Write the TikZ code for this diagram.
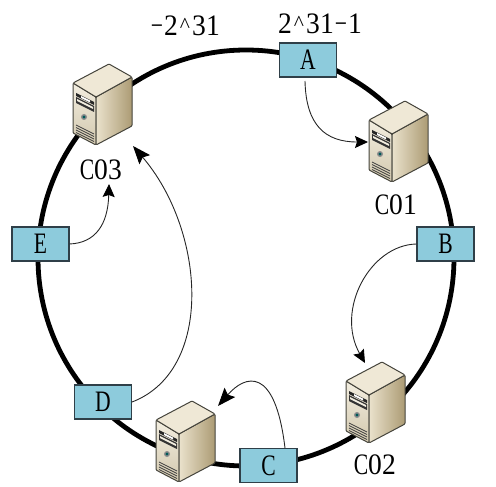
\documentclass[tikz,border=0pt]{standalone}
\usepackage{graphicx}
\usepackage{fontspec}
\setmainfont{Liberation Serif}
\usetikzlibrary{arrows.meta}
\definecolor{boxfill}{HTML}{8DCBDC}
\definecolor{boxedge}{HTML}{2F3F48}
\definecolor{srvedge}{HTML}{45443C}
\definecolor{srvtop}{HTML}{EFE8D6}
\definecolor{srvfronta}{HTML}{F3EEE0}
\definecolor{srvfrontb}{HTML}{D2C8AE}
\definecolor{srvsidea}{HTML}{EAE2CC}
\definecolor{srvsideb}{HTML}{AC9B74}
\newcommand{\gl}[1]{\makebox[14pt]{\scalebox{0.8}[1.1]{#1}}}
\newcommand{\dg}[1]{\makebox[14pt]{\scalebox{1.02}[1.1]{#1}}}
\newcommand{\crt}{\makebox[14pt]{\raisebox{3pt}{\scalebox{0.8}[0.8]{\textasciicircum}}}}
\tikzset{
  hash/.style={draw=boxedge,line width=1.1pt,fill=boxfill,minimum width=57pt,minimum height=34pt,inner sep=0pt,font=\fontsize{27}{27}\selectfont},
  lbl/.style={inner sep=0pt,font=\fontsize{27}{27}\selectfont},
  ring/.style={line width=4.8pt,draw=black},
  link/.style={draw=black!85,line width=0.9pt},
  bigtip/.style={-{Stealth[length=18pt,width=14pt,inset=3pt,black]}},
  smalltip/.style={-{Stealth[length=13pt,width=12pt,inset=2pt,black]}},
  face/.style={draw=srvedge,line width=1pt,line join=round,rounded corners=1pt},
  server/.pic={
    \path[face,top color=srvfronta,bottom color=srvfrontb]
      (-36,19) -- (-13,33) -- (-13,81) -- (-36,69) -- cycle;
    \path[face,left color=srvsidea,right color=srvsideb]
      (-13,33) -- (23,13) -- (23,62) -- (-13,81) -- cycle;
    \path[face,fill=srvtop]
      (0,0) -- (23,13) -- (-13,33) -- (-36,19) -- cycle;
    \fill[black!85] (-33,29) -- (-15,38) -- (-15,41) -- (-33,32) -- cycle;
    \fill[white] (-28,32) -- (-19,36.5) -- (-19,38.5) -- (-28,34) -- cycle;
    \fill[black!80] (-33,33) -- (-15,42) -- (-15,48) -- (-33,39) -- cycle;
    \fill[srvfronta] (-32,35) -- (-16,43) -- (-16,45) -- (-32,37) -- cycle;
    \fill[black!45] (-25,53) circle (3pt);
    \fill[teal!70!black] (-25,53) circle (1.7pt);
    \foreach \d in {0,2.5,5,7.5}
      \draw[line width=0.8pt,black!75] (-33,61+\d) -- (-15,70+\d);
  }
}
\begin{document}
\begin{tikzpicture}[x=1pt,y=-1pt]
\useasboundingbox (0,0) rectangle (496,487);
\coordinate (hub) at (246,258);
\draw[ring] (hub) circle (208);
\pic at (109,64) {server};
\pic at (405,101) {server};
\pic at (382,362) {server};
\pic at (192,401) {server};
\node[hash] (A) at (308,60) {\gl{A}};
\node[hash] (B) at (445.5,244) {\gl{B}};
\node[hash] (C) at (268.5,465.5) {\gl{C}};
\node[hash] (D) at (103,402) {\gl{D}};
\node[hash] (E) at (40.5,244) {\gl{E}};
\node[lbl] (c3) at (101,170) {\gl{C}\dg{0}\dg{3}};
\node[lbl] (c1) at (396,205) {\gl{C}\dg{0}\dg{1}};
\node[lbl] (c2) at (375,465) {\gl{C}\dg{0}\dg{2}};
\node[lbl] (lo) at (185,26) {\gl{−}\dg{2}\crt\dg{3}\dg{1}};
\node[lbl] (hi) at (320,24) {\dg{2}\crt\dg{3}\dg{1}\gl{−}\dg{1}};
\coordinate (ta) at (368,142);
\coordinate (sa) at (305,81);
\coordinate (tb) at (365,363);
\coordinate (tc) at (218,406);
\coordinate (sc) at (285,448);
\coordinate (td) at (133,146);
\coordinate (te) at (109,184);
\draw[link,smalltip] (sa) .. controls (306,125) and (325,142) .. (ta);
\draw[link,smalltip] (B.west) .. controls (370,245) and (335,310) .. (tb);
\draw[link,bigtip] (sc) .. controls (275,365) and (245,375) .. (tc);
\draw[link,bigtip] (D.east) .. controls (215,370) and (205,230) .. (td);
\draw[link,smalltip] (E.east) .. controls (95,243) and (108,225) .. (te);
\end{tikzpicture}
\end{document}
